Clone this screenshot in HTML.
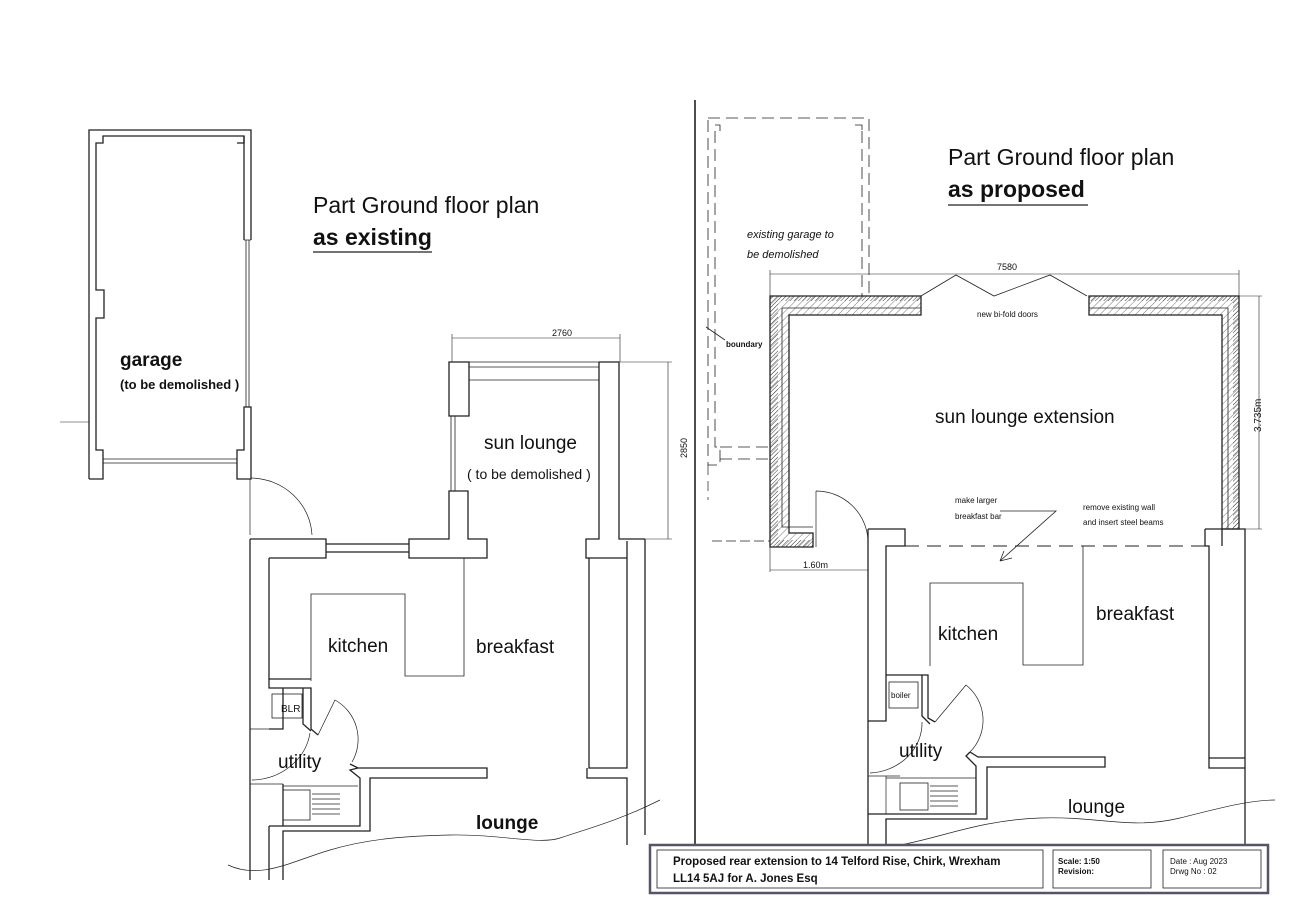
<!DOCTYPE html>
<html><head><meta charset="utf-8"><style>
html,body{margin:0;padding:0;background:#fff;}
svg{display:block;}
text{font-family:"Liberation Sans",sans-serif;fill:#111;}
</style></head><body>
<svg width="1302" height="903" viewBox="0 0 1302 903" xmlns="http://www.w3.org/2000/svg">
<defs>
<pattern id="h1" patternUnits="userSpaceOnUse" width="3" height="3" patternTransform="rotate(45)"><line x1="0" y1="0" x2="0" y2="3" stroke="#333" stroke-width="1"/></pattern>
<pattern id="h2" patternUnits="userSpaceOnUse" width="5" height="5" patternTransform="rotate(45)"><line x1="0" y1="0" x2="0" y2="5" stroke="#555" stroke-width="0.8"/></pattern>
</defs>
<rect width="1302" height="903" fill="#fff"/>
<g fill="none" stroke="#222" stroke-width="1.3">
<!-- ===== LEFT: existing ===== -->
<!-- garage -->
<path d="M89,479 V130 H251 V240 M244,240 V136 H103 V143 H96 V290 H104 V318 H96 V450 H103 V479 H89"/>
<path d="M251,407 V479 H237 V450 H244 V407 Z"/>
<path d="M244,136 V143 H237"/>
<path d="M244,240 H251 M246,240 V407 M249,240 V407" stroke-width="0.8"/>
<path d="M103,459 H237 M103,463 H237" stroke-width="0.8"/>
<path d="M60,422 H89" stroke-width="0.6"/>
<!-- door arc -->
<path d="M250,479 V535" stroke-width="0.7"/>
<path d="M251,478 A62,60 0 0 1 312,535" stroke-width="0.7"/>
<!-- sun lounge -->
<path d="M449,362 H469 V416 H449 Z"/>
<path d="M469,362 H599 M469,367 H599 M469,380 H599" stroke-width="0.8"/>
<path d="M599,362 H619 V539 H645 M599,362 V539 H586 V558 H589"/>
<path d="M451,416 V491 M455,416 V491" stroke-width="0.8"/>
<path d="M449,491 H468 V539 H487 V558 H409 V539 H449 Z"/>
<!-- top wall -->
<path d="M250,539 H326 V558 H269 M326,544 H409 M326,552 H409" />
<path d="M250,539 V880 M269,558 V679 H311"/>
<!-- right column -->
<path d="M589,558 H627 V768 H589 Z M627,558 V541"/>
<path d="M645,539 V835"/>
<path d="M587,768 V778 H627 V845"/>
<!-- kitchen units -->
<path d="M311,681 V594 H405 V676 H464 V558" stroke-width="0.8"/>
<!-- boiler -->
<path d="M269,679 V688 H311 V729 L318,735 M283,688 V729 H269 M303,688 V724 L311,731"/>
<rect x="272" y="694" width="30" height="24" stroke-width="0.8"/>
<path d="M250,729 H283 M250,784 H283" stroke-width="0.7"/>
<!-- utility door -->
<path d="M318,735 L335,700 A45,45 0 0 1 352,762" stroke-width="0.7"/>
<path d="M252,780 A60,55 0 0 0 310,733" stroke-width="0.7"/>
<!-- utility/lounge wall -->
<path d="M350,764 L358,768 H487 V778 H370 V831 H283 V880 M358,768 L350,770 L360,778 V826 H269"/>
<path d="M283,784 V826"/>
<path d="M283,786 H358" stroke-width="0.7"/>
<rect x="283" y="790" width="27" height="30" stroke-width="0.8"/>
<path d="M312,794 H340 M312,799 H340 M312,804 H340 M312,809 H340 M312,814 H340" stroke-width="0.7"/>
<path d="M269,826 V880"/>
<!-- wavy -->
<path d="M228,865 C260,880 290,862 330,850 C370,838 410,836 450,835 C500,834 540,845 560,838 C590,828 620,820 660,800" stroke-width="0.7"/>
<!-- dimensions -->
<path d="M452,338 H620 M452,334 V362 M620,334 V362 M620,362 H672 M668,362 V539 M645,539 H672" stroke-width="0.6"/>

<!-- divider -->
<path d="M695,100 V845" stroke-width="1.6"/>

<!-- ===== RIGHT: proposed ===== -->
<!-- dashed garage -->
<path d="M708,118 H869 V296 M715,125 H720 V131 M855,125 H862 V131 M862,131 V296 M715,131 V447 H720 V465 H708 V118 M720,447 H770 M720,459 H770" stroke-width="0.8" stroke-dasharray="12,6"/>
<path d="M708,465 V500" stroke-width="0.7" stroke-dasharray="10,6"/>
<path d="M706,327 L725,340" stroke-width="0.8"/>
<path d="M712,541 H770" stroke-width="0.7" stroke-dasharray="10,4"/>
<!-- extension walls -->
<path d="M770,296 H921 V315 H789 V533 H813 V547 H770 Z" fill="url(#h2)"/>
<path d="M770,296 H921 V301 H778 V540 H813 V547 H770 Z" fill="url(#h1)" stroke="none"/>
<path d="M782,308 H921 M782,308 V527 H813" stroke-width="0.8"/>
<path d="M1089,296 H1239 V529 H1222 V315 H1089 Z" fill="url(#h2)"/>
<path d="M1089,296 H1239 V529 H1233 V301 H1089 Z" fill="url(#h1)" stroke="none"/>
<path d="M1089,308 H1228 V529" stroke-width="0.8"/>
<!-- bifold -->
<path d="M921,296 L956,275 L994,296 L1050,275 L1087,296" stroke-width="0.8"/>
<!-- dims -->
<path d="M770,274 H1239 M770,270 V296 M1239,270 V296 M1239,296 H1262 M1259,296 V529 M1245,529 H1262" stroke-width="0.6"/>
<path d="M770,547 V572 M868,547 V572 M770,570 H868" stroke-width="0.6"/>
<!-- door -->
<path d="M816,491 V547 M816,491 A52,52 0 0 1 868,540" stroke-width="0.7"/>
<!-- house -->
<path d="M868,529 H905 V546 H886 V675 M868,529 V845 M886,546 V675"/>
<path d="M905,546 H1205" stroke-width="1" stroke-dasharray="14,8"/>
<path d="M1205,529 H1245 V845 M1205,529 V546 H1209 V758 H1245 M1222,546 V529"/>
<path d="M1209,758 V768 H1245"/>
<path d="M930,666 V583 H1023 V665 H1083 V546" stroke-width="0.8"/>
<!-- boiler -->
<path d="M886,675 H928 V718 L935,722 M922,675 V716 L930,724 M886,675 V721 H868"/>
<rect x="889" y="682" width="29" height="26" stroke-width="0.8"/>
<path d="M868,776 H900" stroke-width="0.7"/>
<path d="M935,722 L966,685 A45,45 0 0 1 970,752" stroke-width="0.7"/>
<path d="M870,773 A55,50 0 0 0 922,722" stroke-width="0.7"/>
<path d="M970,752 L978,757 H1105 V767 H987 V819 H886 V845 M970,752 L966,756 L976,766 V814 H868"/>
<path d="M886,776 V814 M886,778 H976" stroke-width="0.7"/>
<rect x="900" y="783" width="28" height="27" stroke-width="0.8"/>
<path d="M930,786 H958 M930,791 H958 M930,796 H958 M930,801 H958 M930,806 H958" stroke-width="0.7"/>
<path d="M900,845 C940,838 980,820 1040,818 C1100,816 1130,830 1180,818 C1220,808 1250,800 1275,800" stroke-width="0.7"/>
<!-- arrow -->
<path d="M1000,511 H1056 L1000,561 M1000,561 L1012,558 M1000,561 L1004,551" stroke-width="0.8"/>
<!-- title block -->
<rect x="650" y="845" width="618" height="48" stroke="#556" stroke-width="2.5"/>
<rect x="657" y="850" width="386" height="38" stroke-width="0.8"/>
<rect x="1053" y="850" width="98" height="38" stroke-width="0.8"/>
<rect x="1163" y="850" width="98" height="38" stroke-width="0.8"/>
</g>

<!-- text -->
<text x="313" y="213" font-size="23">Part Ground floor plan</text>
<text x="313" y="245" font-size="23" font-weight="bold" fill="#222">as existing</text>
<line x1="313" y1="252" x2="432" y2="252" stroke="#222" stroke-width="1.2"/>
<text x="948" y="165" font-size="23">Part Ground floor plan</text>
<text x="948" y="197" font-size="23" font-weight="bold">as proposed</text>
<line x1="948" y1="205" x2="1088" y2="205" stroke="#222" stroke-width="1.2"/>
<text x="120" y="366" font-size="19" font-weight="bold">garage</text>
<text x="120" y="389" font-size="13" font-weight="bold">(to be demolished )</text>
<text x="484" y="449" font-size="19">sun lounge</text>
<text x="467" y="479" font-size="14">( to be demolished )</text>
<text x="328" y="652" font-size="19">kitchen</text>
<text x="476" y="653" font-size="19">breakfast</text>
<text x="281" y="712" font-size="10">BLR</text>
<text x="278" y="768" font-size="19">utility</text>
<text x="476" y="829" font-size="19" font-weight="bold">lounge</text>
<text x="552" y="336" font-size="9">2760</text>
<text x="687" y="458" font-size="9" transform="rotate(-90 687 458)">2850</text>
<text x="747" y="238" font-size="11" font-style="italic">existing garage to</text>
<text x="747" y="258" font-size="11" font-style="italic">be demolished</text>
<text x="726" y="347" font-size="8" font-weight="bold">boundary</text>
<text x="997" y="270" font-size="9">7580</text>
<text x="977" y="317" font-size="8">new bi-fold doors</text>
<text x="935" y="423" font-size="19">sun lounge extension</text>
<text x="1261" y="432" font-size="10" transform="rotate(-90 1261 432)">3.735m</text>
<text x="955" y="503" font-size="8">make larger</text>
<text x="955" y="519" font-size="8">breakfast bar</text>
<text x="1083" y="510" font-size="8">remove existing wall</text>
<text x="1083" y="525" font-size="8">and insert steel beams</text>
<text x="803" y="568" font-size="9">1.60m</text>
<text x="1096" y="620" font-size="19">breakfast</text>
<text x="938" y="640" font-size="19">kitchen</text>
<text x="891" y="698" font-size="8">boiler</text>
<text x="899" y="757" font-size="19">utility</text>
<text x="1068" y="813" font-size="19">lounge</text>
<text x="673" y="865" font-size="11.5" font-weight="bold">Proposed  rear extension to 14 Telford Rise, Chirk, Wrexham</text>
<text x="673" y="882" font-size="11.5" font-weight="bold">LL14 5AJ for  A. Jones Esq</text>
<text x="1058" y="864" font-size="8" font-weight="bold">Scale: 1:50</text>
<text x="1058" y="874" font-size="8" font-weight="bold">Revision:</text>
<text x="1170" y="864" font-size="8">Date : Aug 2023</text>
<text x="1170" y="874" font-size="8">Drwg No : 02</text>
</svg>
</body></html>
